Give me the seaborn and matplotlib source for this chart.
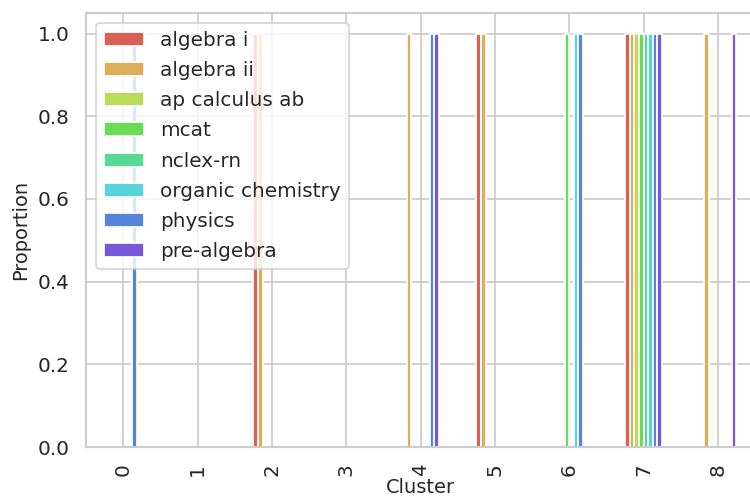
import pandas as pd
import matplotlib
matplotlib.use("Agg")
import matplotlib.pyplot as plt
import seaborn as sns

clusters = [0, 1, 2, 3, 4, 5, 6, 7, 8]
subjects = ["algebra i", "algebra ii", "ap calculus ab", "mcat",
            "nclex-rn", "organic chemistry", "physics", "pre-algebra"]

# proportion of each subject per cluster
algebra_i = [0, 0, 1, 0, 0, 1, 0, 1, 0]
algebra_ii = [0, 0, 1, 0, 1, 1, 0, 1, 1]
ap_calculus_ab = [0, 0, 0, 0, 0, 0, 0, 1, 0]
mcat = [0, 0, 0, 0, 0, 0, 1, 1, 0]
nclex_rn = [0, 0, 0, 0, 0, 0, 0, 1, 0]
organic_chemistry = [0, 0, 0, 0, 0, 0, 1, 1, 0]
physics = [1, 0, 0, 0, 1, 0, 1, 1, 0]
pre_algebra = [0, 0, 0, 0, 1, 0, 0, 1, 1]

values = [algebra_i, algebra_ii, ap_calculus_ab, mcat,
          nclex_rn, organic_chemistry, physics, pre_algebra]

rows = []
for subj, vals in zip(subjects, values):
    for c, v in zip(clusters, vals):
        rows.append({"Cluster": c, "Proportion": v, "subject": subj})
df = pd.DataFrame(rows)

sns.set_theme(style="whitegrid", context="notebook")
colors = sns.color_palette("hls", 10)[:8]

fig = plt.figure(figsize=(6, 3.992), dpi=125)
ax = fig.add_axes([0.1147, 0.1042, 0.892, 0.870])

sns.barplot(data=df, x="Cluster", y="Proportion", hue="subject",
            hue_order=subjects, palette=colors, saturation=1, width=0.5,
            edgecolor="white", linewidth=1.0, ax=ax)

ax.set_xlim(-0.5, 8.5)
ax.set_ylim(0, 1.05)
ax.tick_params(axis="both", labelsize=11.5)
ax.tick_params(axis="x", rotation=90)
ax.xaxis.grid(True)
ax.set_xlabel("Cluster", fontsize=11.2, labelpad=1)
ax.set_ylabel("Proportion", fontsize=11.2)
sns.move_legend(ax, "upper left", title=None, fontsize=11.5,
                labelspacing=0.56)

fig.savefig("out.png", dpi=125)
